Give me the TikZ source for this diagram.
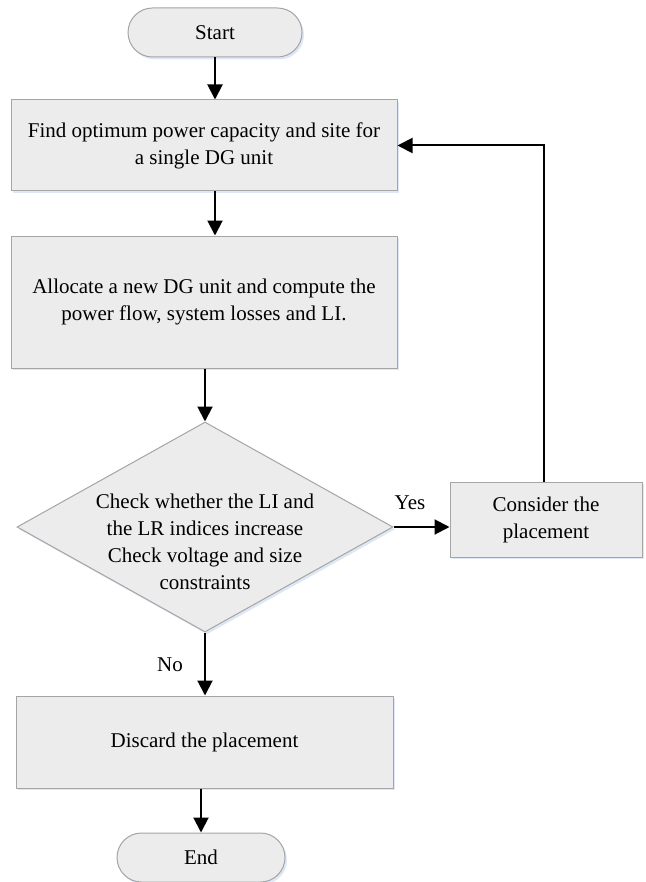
\documentclass[tikz,border=0pt]{standalone}
\usepackage{fontspec}
\setmainfont{Liberation Serif}
\usetikzlibrary{shapes.geometric,shapes.misc,arrows.meta,shadows}

\begin{document}
\begin{tikzpicture}[x=0.5pt,y=-0.5pt,
        font=\fontsize{10.5}{13.5}\selectfont,
        box/.style={draw=boxline, fill=boxfill, line width=0.5pt, align=center, inner sep=0pt,
            drop shadow={shadow xshift=1pt, shadow yshift=-1.2pt, fill=shadowblue, opacity=0.6}},
        terminal/.style={box, rounded rectangle, minimum width=87pt, minimum height=24.5pt},
        decision/.style={box, diamond, minimum width=188pt, minimum height=105pt},
        flow/.style={line width=1pt, -{Triangle[length=7.5pt,width=7.5pt]}}]
        % Define colors
        \definecolor{boxfill}{RGB}{236,236,236}
        \definecolor{boxline}{RGB}{165,165,165}
        \definecolor{shadowblue}{RGB}{200,215,240}

        \useasboundingbox (0,0) rectangle (646,882);

        % Draw the blocks
        \node[terminal] (start) at (215,32.5) {Start};
        \node[box, minimum width=193pt, minimum height=45.5pt] (find) at (204,145.5)
            {Find optimum power capacity and site for\\a single DG unit};
        \node[box, minimum width=193pt, minimum height=66pt] (alloc) at (204,302)
            {Allocate a new DG unit and compute the\\power flow, system losses and LI.};
        \node[decision] (check) at (205,527) {};
        \node[align=center, inner sep=0pt] (checktext) at (205,542)
            {Check whether the LI and\\the LR indices increase\\Check voltage and size\\constraints};
        \node[box, minimum width=96pt, minimum height=37.5pt] (consider) at (546,519.5)
            {Consider the\\placement};
        \node[box, minimum width=188.5pt, minimum height=46pt] (discard) at (204.5,742)
            {Discard the placement};
        \node[terminal, minimum width=84pt] (end) at (201,857.5) {End};

        % Draw the connectors
        \draw[flow] (start.south) -- (start.south |- find.north);
        \draw[flow] (find.south -| start) -- (alloc.north -| start);
        \draw[flow] (alloc.south -| check) -- (check.north);
        \draw[flow] (check.east) -- (check.east -| consider.west);
        \draw[flow] (check.south) -- (check.south |- discard.north);
        \draw[flow] (discard.south -| end) -- (end.north);
        \draw[flow] ([xshift=-1pt]consider.north) |- (find.east);

        % Add labels
        \node (yes) at (410,503) {Yes};
        \node (no) at (170,665) {No};

    \end{tikzpicture}
\end{document}
